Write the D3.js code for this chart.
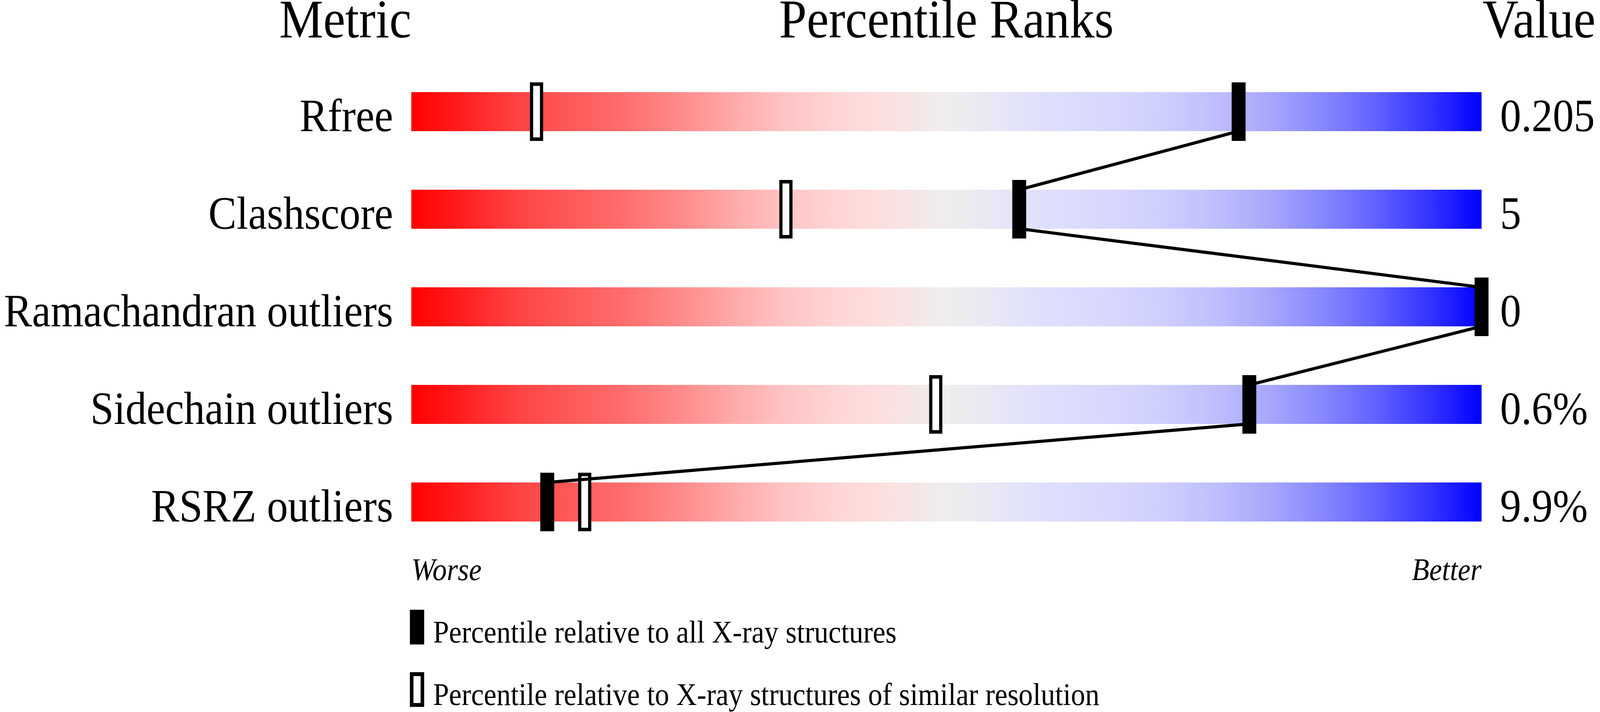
<!DOCTYPE html>
<html>
<head>
<meta charset="utf-8">
<script src="https://cdn.jsdelivr.net/npm/d3@7"></script>
<style>
  html, body { margin: 0; padding: 0; background: #ffffff; width: 100%; height: 100%; overflow: hidden; }
  svg { display: block; width: 100vw; height: 100vh; }
  text { font-family: "Liberation Serif", "Times New Roman", serif; fill: #000; }
</style>
</head>
<body>
<svg id="chart" viewBox="0 0 4485 1824" preserveAspectRatio="none"></svg>
<script>
// ---- data ----
const metrics = ["Rfree", "Clashscore", "Ramachandran outliers", "Sidechain outliers", "RSRZ outliers"];
const values = ["0.205", "5", "0", "0.6%", "9.9%"];
const pctAll = [77.3, 56.8, 100, 78.3, 12.7];        // percentile relative to all X-ray structures
const pctSimilar = [11.7, 35.0, 100, 49.0, 16.2];    // percentile relative to similar resolution
const headers = ["Metric", "Percentile Ranks", "Value"];
const axisLabels = ["Worse", "Better"];
const legendLabels = ["Percentile relative to all X-ray structures",
                      "Percentile relative to X-ray structures of similar resolution"];
const gradStops = [
  [0, "#ff0000"], [0.05, "#ff2020"], [0.10, "#ff4343"], [0.15, "#ff5a5a"],
  [0.20, "#ff6e6e"], [0.25, "#ff8a8a"], [0.30, "#ffa9a9"], [0.35, "#ffc4c4"],
  [0.40, "#ffd6d6"], [0.44, "#fddfdf"], [0.47, "#f5e6e6"], [0.50, "#eeeeee"],
  [0.54, "#e8e8f4"], [0.59, "#dfdffd"], [0.65, "#d8d8fe"], [0.70, "#cfcffe"],
  [0.75, "#bfbffd"], [0.80, "#a8a8fc"], [0.85, "#8888ff"], [0.90, "#6262ff"],
  [0.95, "#3535ff"], [1, "#0000ff"]
];

// ---- layout ----
const svg = d3.select("#chart");
const x = d3.scaleLinear().domain([0, 100]).range([1153, 4153]);
const rowTop = d3.scaleLinear().domain([0, 1]).range([236, 486]);
const barH = 100;
const labelSize = 118, titleSize = 139, smallSize = 80;

const defs = svg.append("defs");
const grad = defs.append("linearGradient").attr("id", "sliderGrad")
  .attr("x1", "0%").attr("x2", "100%").attr("y1", "0%").attr("y2", "0%");
grad.selectAll("stop").data(gradStops).join("stop")
  .attr("offset", d => d[0]).attr("stop-color", d => d[1]);

// headers
svg.append("text").text(headers[0]).attr("x", x(0)).attr("y", 96)
  .attr("text-anchor", "end").attr("font-size", titleSize);
svg.append("text").text(headers[1]).attr("x", (x(0) + x(100)) / 2).attr("y", 96)
  .attr("text-anchor", "middle").attr("font-size", titleSize);
svg.append("text").text(headers[2]).attr("x", x(100) + 3).attr("y", 96)
  .attr("text-anchor", "start").attr("font-size", titleSize);

const idx = d3.range(metrics.length);

// bars
svg.selectAll("rect.bar").data(idx).join("rect").attr("class", "bar")
  .attr("x", x(0)).attr("y", i => rowTop(i)).attr("width", x(100) - x(0)).attr("height", barH)
  .attr("fill", "url(#sliderGrad)");

// metric labels
svg.selectAll("text.metric").data(idx).join("text").attr("class", "metric")
  .text(i => metrics[i]).attr("x", x(0) - 51).attr("y", i => rowTop(i) + barH)
  .attr("text-anchor", "end").attr("font-size", labelSize);

// values
svg.selectAll("text.value").data(idx).join("text").attr("class", "value")
  .text(i => values[i]).attr("x", x(100) + 52).attr("y", i => rowTop(i) + barH)
  .attr("text-anchor", "start").attr("font-size", labelSize);

// open markers (similar resolution)
const openW = 28, openStroke = 9, markH = 150;
svg.selectAll("rect.open").data(idx).join("rect").attr("class", "open")
  .attr("x", i => x(pctSimilar[i]) - openW / 2)
  .attr("y", i => rowTop(i) - 25 + openStroke / 2)
  .attr("width", openW).attr("height", markH - openStroke)
  .attr("fill", "#ffffff").attr("stroke", "#000").attr("stroke-width", openStroke);

// connecting line
const pts = [];
idx.forEach(i => {
  pts.push([x(pctAll[i]), rowTop(i)]);
  pts.push([x(pctAll[i]), rowTop(i) + barH]);
});
svg.append("path").attr("d", d3.line()(pts.slice(1, -1)))
  .attr("fill", "none").attr("stroke", "#000").attr("stroke-width", 8);

// black markers (all structures)
const blackW = 39;
svg.selectAll("rect.black").data(idx).join("rect").attr("class", "black")
  .attr("x", i => x(pctAll[i]) - blackW / 2).attr("y", i => rowTop(i) - 25)
  .attr("width", blackW).attr("height", markH).attr("fill", "#000");

// Worse / Better
svg.append("text").text(axisLabels[0]).attr("x", x(0)).attr("y", 1486)
  .attr("font-style", "italic").attr("font-size", smallSize).attr("text-anchor", "start");
svg.append("text").text(axisLabels[1]).attr("x", x(100)).attr("y", 1486)
  .attr("font-style", "italic").attr("font-size", smallSize).attr("text-anchor", "end");

// legend
const legY = [1562, 1722];
svg.append("rect").attr("x", 1149).attr("y", legY[0]).attr("width", 40).attr("height", 89).attr("fill", "#000");
svg.append("rect").attr("x", 1154).attr("y", legY[1] + 5).attr("width", 30).attr("height", 79)
  .attr("fill", "#fff").attr("stroke", "#000").attr("stroke-width", 10);
svg.selectAll("text.leg").data(legendLabels).join("text").attr("class", "leg")
  .text(d => d).attr("x", 1214).attr("y", (d, i) => legY[i] + 84)
  .attr("font-size", smallSize);
</script>
</body>
</html>
